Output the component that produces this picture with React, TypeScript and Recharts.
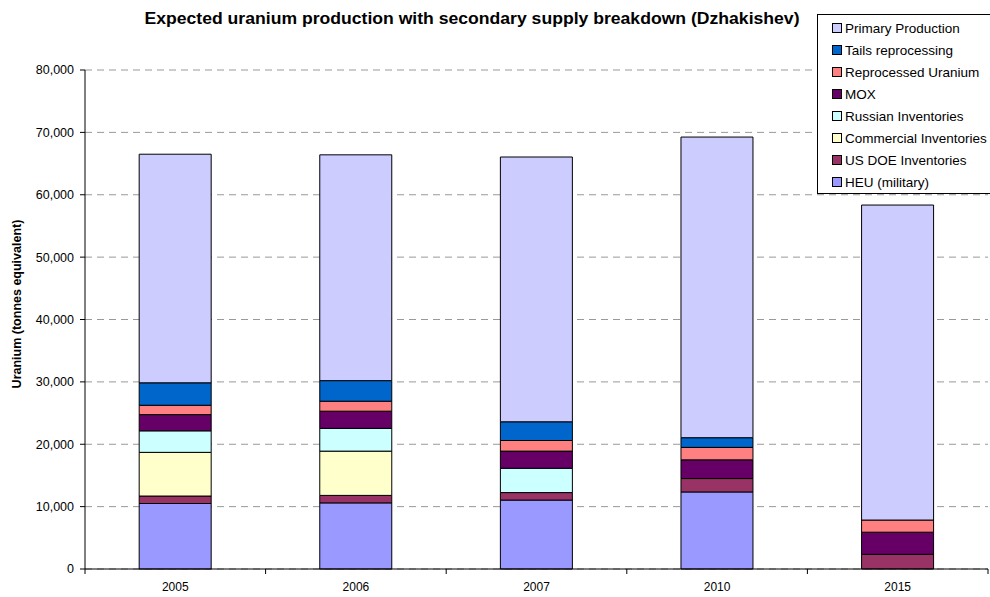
import { Bar, BarChart, CartesianGrid, XAxis, YAxis } from "recharts";

const years = ["2005", "2006", "2007", "2010", "2015"];

// tonnes U equivalent
const heuMilitary = [10500, 10600, 11050, 12350, 0];
const usDoeInventories = [1200, 1200, 1200, 2150, 2350];
const commercialInventories = [7000, 7100, 0, 0, 0];
const russianInventories = [3450, 3650, 3900, 0, 0];
const mox = [2600, 2750, 2750, 3000, 3550];
const reprocessedUranium = [1500, 1600, 1700, 2000, 1950];
const tailsReprocessing = [3600, 3300, 3000, 1550, 0];
const primaryProduction = [36650, 36200, 42450, 48200, 50500];

const yTicks = [0, 10000, 20000, 30000, 40000, 50000, 60000, 70000, 80000];

const series = [
  { key: "heu", name: "HEU (military)", color: "#9999FF", values: heuMilitary },
  { key: "usdoe", name: "US DOE Inventories", color: "#993366", values: usDoeInventories },
  { key: "commercial", name: "Commercial Inventories", color: "#FFFFCC", values: commercialInventories },
  { key: "russian", name: "Russian Inventories", color: "#CCFFFF", values: russianInventories },
  { key: "mox", name: "MOX", color: "#660066", values: mox },
  { key: "repu", name: "Reprocessed Uranium", color: "#FF8080", values: reprocessedUranium },
  { key: "tails", name: "Tails reprocessing", color: "#0066CC", values: tailsReprocessing },
  { key: "primary", name: "Primary Production", color: "#CCCCFF", values: primaryProduction },
];

const data = years.map((year, i) => {
  const row: Record<string, string | number> = { year };
  series.forEach((s) => {
    row[s.key] = s.values[i];
  });
  return row;
});

const W = 990;
const H = 597;
const LEFT = 85;
const RIGHT = 2;
const BAND = (W - LEFT - RIGHT) / years.length;
const FONT = "'Liberation Sans', Arial, Helvetica, sans-serif";

function XTick(props: any) {
  const { x, y, payload, index } = props;
  const half = BAND / 2;
  return (
    <g>
      <line x1={x - half} x2={x - half} y1={y - 8} y2={y - 3} stroke="#000" />
      {index === years.length - 1 ? (
        <line x1={x + half} x2={x + half} y1={y - 8} y2={y - 3} stroke="#000" />
      ) : null}
      <text x={x} y={y + 14} textAnchor="middle" fontSize={12} fontFamily={FONT} fill="#000">
        {payload.value}
      </text>
    </g>
  );
}

function YLabel() {
  return (
    <text
      x={17}
      y={304}
      transform="rotate(-90 17 304)"
      textAnchor="middle"
      dominantBaseline="central"
      fontSize={12.5}
      fontWeight="bold"
      fontFamily={FONT}
      fill="#000"
    >
      Uranium (tonnes equivalent)
    </text>
  );
}

function LegendBox() {
  const items = [...series].reverse();
  return (
    <div
      style={{
        position: "absolute",
        left: 817,
        top: 14,
        width: 185,
        height: 180,
        border: "1px solid #000",
        background: "#fff",
        fontFamily: FONT,
        fontSize: 13.5,
        color: "#000",
        boxSizing: "border-box",
        paddingTop: 2,
      }}
    >
      {items.map((s) => (
        <div key={s.key} style={{ display: "flex", alignItems: "center", height: 22, paddingLeft: 14 }}>
          <span
            style={{
              display: "inline-block",
              width: 8,
              height: 8,
              background: s.color,
              border: "1px solid #000",
              marginRight: 3,
              flexShrink: 0,
            }}
          />
          <span style={{ whiteSpace: "nowrap" }}>{s.name}</span>
        </div>
      ))}
    </div>
  );
}

export default function App() {
  return (
    <div style={{ position: "absolute", left: 0, top: 0, width: W, height: H, background: "#fff", overflow: "hidden" }}>
      <BarChart
        width={W}
        height={H}
        data={data}
        margin={{ top: 70, right: RIGHT, bottom: 0, left: 25 }}
        barCategoryGap="30%"
      >
        <text
          x={472}
          y={24}
          textAnchor="middle"
          fontSize={16.5}
          fontWeight="bold"
          fontFamily={FONT}
          fill="#000"
          textLength={655}
          lengthAdjust="spacingAndGlyphs"
        >
          Expected uranium production with secondary supply breakdown (Dzhakishev)
        </text>
        <CartesianGrid horizontal vertical={false} stroke="#999" strokeDasharray="7 5" />
        <XAxis
          dataKey="year"
          height={28}
          axisLine={{ stroke: "#000" }}
          tickLine={false}
          tick={<XTick />}
        />
        <YAxis
          width={60}
          domain={[0, 80000]}
          ticks={yTicks}
          axisLine={{ stroke: "#000" }}
          tickLine={{ stroke: "#000" }}
          tickSize={5}
          tickMargin={6}
          tick={{ fontSize: 12.5, fontFamily: FONT, fill: "#000" }}
          tickFormatter={(v: number) => v.toLocaleString("en-US")}
          label={<YLabel />}
        />
        {series.map((s) => (
          <Bar
            key={s.key}
            dataKey={s.key}
            name={s.name}
            stackId="supply"
            fill={s.color}
            stroke="#000"
            strokeWidth={1}
            isAnimationActive={false}
          />
        ))}
      </BarChart>
      <LegendBox />
    </div>
  );
}
